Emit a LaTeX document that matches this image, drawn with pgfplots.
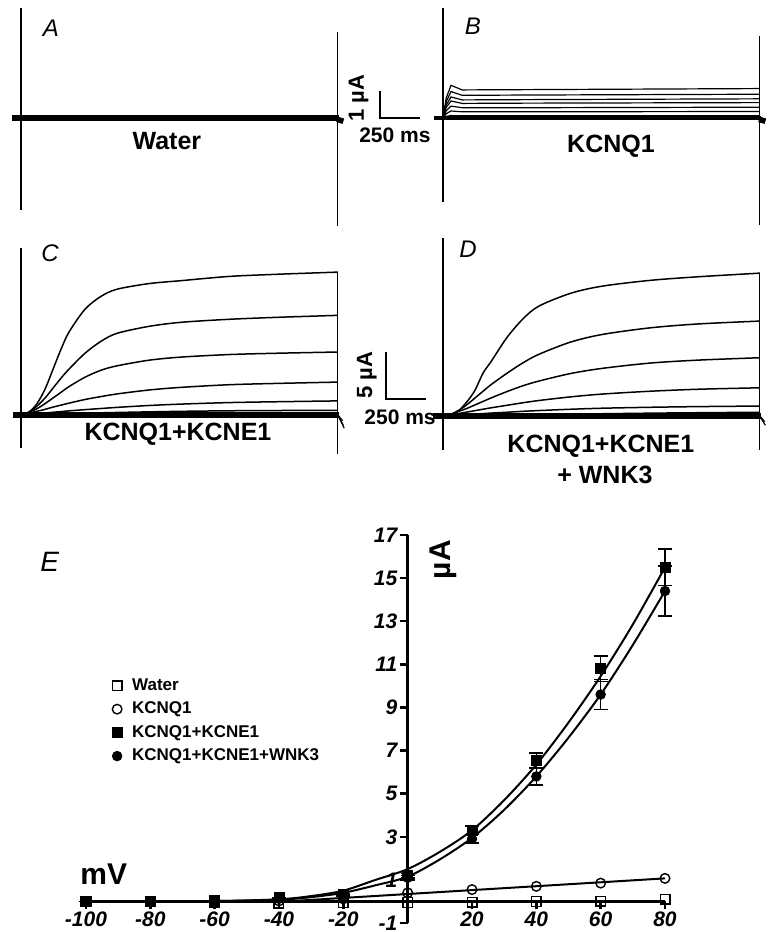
\documentclass[border=0pt]{standalone}
\usepackage{fontspec}
\setmainfont{Liberation Sans}
\usepackage{pgfplots}
\pgfplotsset{compat=1.18}
\pgfplotsset{
  trace/.style={hide axis, scale only axis, width=176pt, xmin=-100, xmax=2100, clip=false, anchor=south west},
  tr/.style={black, line width=0.6pt, no marks},
  cur/.style={black, line width=0.75pt, no marks, smooth},
}
\newcommand{\lbl}{\fontsize{11}{13}\selectfont\bfseries}
\newcommand{\biglbl}{\fontsize{12.5}{15}\selectfont\bfseries}
\newcommand{\pl}{\fontsize{12}{14}\selectfont\itshape}
\begin{document}
\begin{tikzpicture}
\useasboundingbox (0,0) rectangle (386.5pt,466pt);

% ---------------- A ----------------
\begin{axis}[trace, at={(2.5pt,352pt)}, height=110pt, ymin=-4.074, ymax=4.074]
\addplot[tr] coordinates {(0,4.07)(0,-3.4)};
\addplot[tr] coordinates {(1980,3.19)(1980,-4.0)};
\addplot[black, line width=2.8pt] coordinates {(-55,0)(1990,0)};
\addplot[black, line width=0.6pt] coordinates {(0,0.1)(1980,0.1)};
\addplot[black, line width=0.6pt] coordinates {(0,-0.1)(1980,-0.1)};
\addplot[black, line width=2.8pt] coordinates {(1975,-0.05)(2015,-0.12)};
\addplot[black, line width=0.6pt] coordinates {(2244,1)(2244,0)(2494,0)};
\node[rotate=90, font=\lbl] at (axis cs:2110,0.74) {1 µA};
\node[font=\fontsize{10.5}{12}\selectfont\bfseries] at (axis cs:2337,-0.63) {250 ms};
\node[font=\biglbl] at (axis cs:912,-0.85) {Water};
\node[font=\pl] at (axis cs:187,3.33) {A};
\end{axis}

% ---------------- B ----------------
\begin{axis}[trace, at={(213.5pt,352pt)}, height=110pt, ymin=-4.074, ymax=4.074]
\addplot[tr] coordinates {(0,4.07)(0,-3.1)};
\addplot[tr] coordinates {(1980,3.04)(1980,-3.96)};
\addplot[black, line width=2.2pt] coordinates {(-55,0)(1990,0)};
\addplot[tr] coordinates {(0,0)(20,0.74)(50,1.21)(120,1.04)(500,1.05)(1980,1.09)};
\addplot[tr] coordinates {(0,0)(20,0.60)(50,0.98)(120,0.84)(500,0.85)(1980,0.88)};
\addplot[tr] coordinates {(0,0)(20,0.48)(50,0.78)(120,0.67)(500,0.68)(1980,0.71)};
\addplot[tr] coordinates {(0,0)(20,0.39)(50,0.63)(120,0.54)(500,0.55)(1980,0.57)};
\addplot[tr] coordinates {(0,0)(20,0.27)(50,0.44)(120,0.38)(500,0.38)(1980,0.40)};
\addplot[tr] coordinates {(0,0)(20,0.16)(50,0.26)(120,0.23)(500,0.23)(1980,0.24)};
\addplot[tr] coordinates {(0,0)(20,0.06)(50,0.09)(120,0.08)(500,0.08)(1980,0.08)};
\addplot[black, line width=2.8pt] coordinates {(1975,-0.05)(2015,-0.12)};
\node[font=\biglbl] at (axis cs:1050,-1.04) {KCNQ1};
\node[font=\pl] at (axis cs:187,3.4) {B};
\end{axis}

% ---------------- C ----------------
\begin{axis}[trace, at={(2.5pt,237pt)}, height=110pt, ymin=-4.574, ymax=18.83]
\addplot[tr] coordinates {(0,17.8)(0,-3.5)};
\addplot[tr] coordinates {(1980,15.2)(1980,-4.2)};
\addplot[black, line width=2.6pt] coordinates {(-50,0)(1990,0)};
\addplot[cur] coordinates {(0,0)(50,0.30)(100,1.22)(150,2.74)(200,4.86)(250,6.99)(300,8.82)(400,11.25)(500,12.62)(600,13.38)(800,13.98)(1000,14.29)(1300,14.74)(1600,14.97)(1980,15.2)};
\addplot[cur] coordinates {(0,0)(50,0.32)(100,0.95)(150,1.80)(200,2.86)(250,3.92)(300,4.88)(400,6.57)(500,7.84)(600,8.69)(800,9.43)(1000,9.86)(1300,10.18)(1600,10.39)(1980,10.6)};
\addplot[cur] coordinates {(0,0)(50,0.27)(100,0.67)(150,1.21)(200,1.81)(250,2.41)(300,3.02)(400,4.02)(500,4.76)(600,5.23)(800,5.83)(1000,6.16)(1300,6.43)(1600,6.57)(1980,6.7)};
\addplot[cur] coordinates {(0,0)(50,0.18)(100,0.39)(150,0.60)(200,0.84)(250,1.05)(300,1.26)(400,1.65)(500,1.96)(600,2.24)(800,2.66)(1000,2.94)(1300,3.22)(1600,3.36)(1980,3.5)};
\addplot[cur] coordinates {(0,0)(50,0.06)(100,0.14)(150,0.21)(200,0.29)(250,0.36)(300,0.44)(400,0.57)(500,0.69)(600,0.81)(800,1.01)(1000,1.16)(1300,1.32)(1600,1.41)(1980,1.5)};
\addplot[cur] coordinates {(0,0)(200,0.1)(400,0.19)(600,0.27)(1000,0.39)(1400,0.46)(1980,0.5)};
\addplot[cur] coordinates {(0,0)(300,0.05)(600,0.1)(1000,0.15)(1980,0.2)};
\addplot[black, line width=0.6pt] coordinates {(1980,0)(2010,-0.6)};
\addplot[black, line width=0.6pt] coordinates {(1980,0)(2015,-1.1)};
\addplot[black, line width=0.6pt] coordinates {(1980,0)(2020,-1.4)};
\addplot[black, line width=0.6pt] coordinates {(2281,6.70)(2281,1.70)(2531,1.70)};
\node[rotate=90, font=\lbl] at (axis cs:2162,4.26) {5 µA};
\node[font=\fontsize{10.5}{12}\selectfont\bfseries] at (axis cs:2369,-0.21) {250 ms};
\node[font=\biglbl] at (axis cs:981,-2.0) {KCNQ1+KCNE1};
\node[font=\pl] at (axis cs:181,17.2) {C};
\end{axis}

% ---------------- D ----------------
\begin{axis}[trace, at={(213.5pt,237pt)}, height=110pt, ymin=-4.468, ymax=18.94]
\addplot[tr] coordinates {(0,18.9)(0,-3.6)};
\addplot[tr] coordinates {(1980,15.2)(1980,-3.6)};
\addplot[black, line width=2.6pt] coordinates {(-62,0)(1990,0)};
\addplot[cur] coordinates {(0,0)(50,0.15)(100,0.61)(150,1.52)(200,2.74)(250,4.56)(300,5.78)(400,8.36)(500,10.34)(600,11.70)(800,13.07)(1000,13.83)(1300,14.44)(1600,14.82)(1980,15.2)};
\addplot[cur] coordinates {(0,0)(50,0.20)(100,0.61)(150,1.21)(200,1.92)(250,2.63)(300,3.33)(400,4.55)(500,5.66)(600,6.57)(800,7.88)(1000,8.69)(1300,9.39)(1600,9.80)(1980,10.1)};
\addplot[cur] coordinates {(0,0)(50,0.19)(100,0.50)(150,0.81)(200,1.18)(250,1.55)(300,1.92)(400,2.60)(500,3.22)(600,3.72)(800,4.53)(1000,5.08)(1300,5.64)(1600,5.95)(1980,6.2)};
\addplot[cur] coordinates {(0,0)(50,0.12)(100,0.27)(150,0.42)(200,0.57)(250,0.72)(300,0.87)(400,1.14)(500,1.41)(600,1.65)(800,2.04)(1000,2.34)(1300,2.64)(1600,2.85)(1980,3.0)};
\addplot[cur] coordinates {(0,0)(100,0.1)(200,0.2)(300,0.31)(400,0.4)(500,0.5)(600,0.58)(800,0.72)(1000,0.83)(1300,0.93)(1600,1.0)(1980,1.06)};
\addplot[cur] coordinates {(0,0)(200,0.05)(400,0.1)(600,0.16)(1000,0.24)(1400,0.32)(1980,0.4)};
\addplot[black, line width=0.6pt] coordinates {(1980,0)(2010,-0.6)};
\addplot[black, line width=0.6pt] coordinates {(1980,0)(2015,-1.0)};
\node[font=\biglbl] at (axis cs:987,-3.2) {KCNQ1+KCNE1};
\node[font=\biglbl] at (axis cs:1012,-6.28) {+ WNK3};
\node[font=\pl] at (axis cs:156,17.7) {D};
\end{axis}

% ---------------- E ----------------
\begin{axis}[at={(43pt,4.5pt)}, anchor=south west, scale only axis,
  width=289.5pt, height=194pt,
  xmin=-100, xmax=80, ymin=-1, ymax=17,
  axis lines=middle, axis line style={-, line width=1.4pt},
  xtick={-100,-80,-60,-40,-20,20,40,60,80},
  ytick={-1,1,3,5,7,9,11,13,15,17},
  tick align=outside, major tick length=4pt,
  tick style={line width=1.2pt, black},
  ticklabel style={font=\fontsize{10.5}{12}\selectfont\bfseries\itshape, inner sep=1pt},
  xticklabel style={yshift=0pt},
  /pgf/number format/assume math mode=true,
  clip=false,
  legend cell align=left,
  legend style={at={(axis cs:-92,10.55)}, anchor=north west, draw=none, fill=none,
    font=\fontsize{8.5}{10}\selectfont\bfseries, row sep=0.3pt, column sep=3pt, inner sep=0pt},
]
% fitted curves
\addplot[black, line width=1.2pt, forget plot] coordinates {(-100,0)(80,0)};
\addplot[black, line width=1pt, forget plot] coordinates {(-100,0)(-38,0)(80,1.07)};
\addplot[black, line width=1pt, smooth, forget plot] coordinates {(-100,0)(-60,0.02)(-40,0.1)(-30,0.25)(-20,0.5)(-10,1.0)(0,1.5)(10,2.3)(20,3.3)(30,4.7)(40,6.35)(50,8.3)(60,10.45)(70,12.85)(80,15.5)};
\addplot[black, line width=1pt, smooth, forget plot] coordinates {(-100,0)(-60,0.02)(-40,0.08)(-30,0.2)(-20,0.4)(-10,0.75)(0,1.15)(10,1.95)(20,2.95)(30,4.25)(40,5.8)(50,7.6)(60,9.6)(70,11.9)(80,14.4)};
% data
\addplot[black, only marks, mark=square, mark size=2.4pt, mark options={fill=white, line width=0.7pt}]
  coordinates {(-100,0)(-80,0)(-60,-0.03)(-40,-0.08)(-20,-0.05)(0,-0.05)(20,-0.03)(40,0)(60,0.02)(80,0.1)};
\addlegendentry{Water}
\addplot[black, only marks, mark=o, mark size=2.4pt, mark options={fill=white, line width=0.7pt}]
  coordinates {(-100,0)(-80,0)(-60,0)(-40,0.02)(-20,0.12)(0,0.4)(20,0.55)(40,0.7)(60,0.85)(80,1.07)};
\addlegendentry{KCNQ1}
\addplot[black, only marks, mark=square*, mark size=2.5pt,
  error bars/.cd, y dir=both, y explicit,
  error bar style={line width=0.8pt}, error mark options={rotate=90, mark size=3.5pt, line width=0.8pt}]
  coordinates {(-100,0) +- (0,0) (-80,0) +- (0,0) (-60,0.05) +- (0,0) (-40,0.17) +- (0,0) (-20,0.32) +- (0,0.05)
  (0,1.2) +- (0,0.1) (20,3.3) +- (0,0.2) (40,6.55) +- (0,0.35) (60,10.8) +- (0,0.6) (80,15.5) +- (0,0.85)};
\addlegendentry{KCNQ1+KCNE1}
\addplot[black, only marks, mark=*, mark size=2.4pt,
  error bars/.cd, y dir=both, y explicit,
  error bar style={line width=0.8pt}, error mark options={rotate=90, mark size=3.5pt, line width=0.8pt}]
  coordinates {(-100,0) +- (0,0) (-80,0) +- (0,0) (-60,0.03) +- (0,0) (-40,0.12) +- (0,0) (-20,0.3) +- (0,0.05)
  (0,1.1) +- (0,0.1) (20,2.9) +- (0,0.2) (40,5.8) +- (0,0.4) (60,9.6) +- (0,0.7) (80,14.4) +- (0,1.15)};
\addlegendentry{KCNQ1+KCNE1+WNK3}
\node[font=\fontsize{15}{18}\selectfont\bfseries] at (axis cs:-94.5,1.25) {mV};
\node[rotate=90, font=\fontsize{15}{18}\selectfont\bfseries] at (axis cs:11.2,15.86) {µA};
\node[font=\fontsize{14}{16}\selectfont\itshape] at (axis cs:-111.3,15.77) {E};
\end{axis}
\end{tikzpicture}
\end{document}
